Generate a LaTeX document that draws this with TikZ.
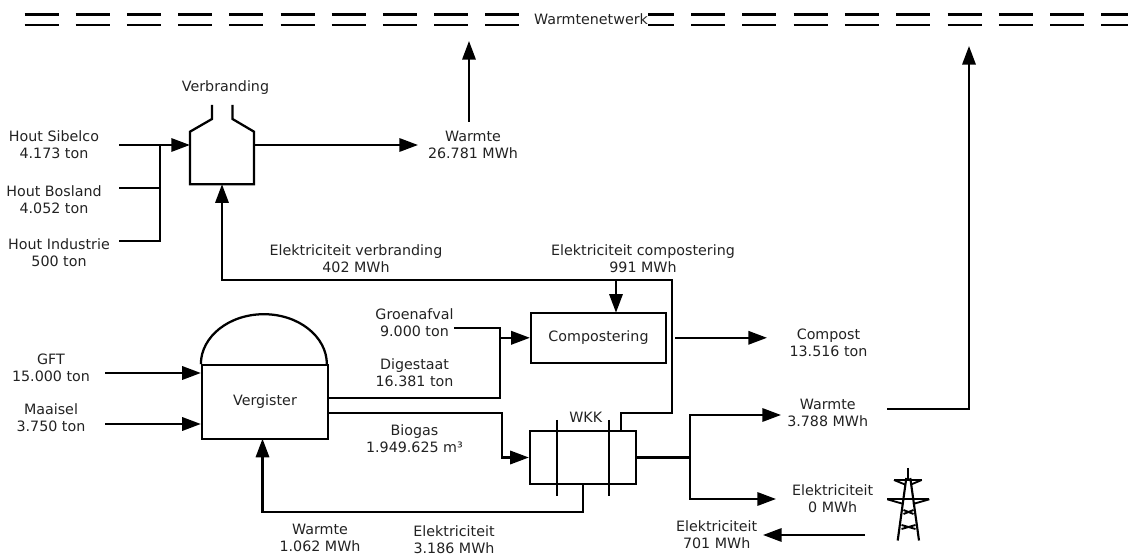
\documentclass[tikz,border=0pt]{standalone}
\usepackage{fontspec}
\setmainfont{DejaVu Sans}
\usetikzlibrary{arrows.meta}
\definecolor{inktext}{HTML}{222222}
\tikzset{
  pipe/.style={draw=black,line width=1.7pt,line join=miter},
  flow/.style={pipe,-{Triangle[length=14pt,width=10pt]}},
  lbl/.style={inner sep=0pt,align=center,text=inktext,font=\fontsize{10.7pt}{12.75pt}\selectfont},
  unit/.style={pipe,inner sep=0pt,align=center,text=inktext,font=\fontsize{10.7pt}{12.75pt}\selectfont},
  netline/.style={draw=black,line width=1.7pt},
  thin pylon/.style={draw=black,line width=1.4pt}
}
\begin{document}
\begin{tikzpicture}[x=0.75pt,y=-0.75pt]
\useasboundingbox (0,0) rectangle (1128,555);

% network
\foreach \s in {24.5,75.7,126.9,178.1,229.3,280.5,331.7,382.9,434.1,485.3}{
  \draw[netline] (\s,14.5) -- ++(34,0);
  \draw[netline] (\s,24.7) -- ++(34,0);
}
\draw[netline] (648,14.5) -- (674,14.5);
\draw[netline] (648,24.7) -- (674,24.7);
\foreach \s in {691,742.3,793.6,844.9,896.2,947.5,998.8,1050.1,1101.4}{
  \draw[netline] (\s,14.5) -- ++(34,0);
  \draw[netline] (\s,24.7) -- ++(34,0);
}
\node[lbl] (net) at (591,19.5) {Warmtenetwerk};

% units
\node[inner sep=0pt,minimum width=47.7pt,minimum height=39pt] (verb) at (222,158) {};
\node[unit,draw,minimum width=94.5pt,minimum height=55pt] (verg) at (265,402) {Vergister};
\node[unit,draw,minimum width=101.2pt,minimum height=37.7pt] (comp) at (598.5,337.8) {Compostering};
\node[unit,draw,minimum width=79.5pt,minimum height=39.7pt] (wkk) at (583,457.5) {};

% furnace outline
\draw[pipe] (212,105) -- (212,119) -- (verb.north west) -- (verb.south west) -- (verb.south east) -- (verb.north east) -- (232.5,119) -- (232.5,105);

% digester dome
\draw[pipe] (verg.north west) arc[start angle=180,end angle=0,x radius=47.25pt,y radius=37.5pt];

% WKK tube sheets
\coordinate (wa) at (556.7,420);
\coordinate (wb) at (556.7,495.7);
\coordinate (wc) at (609,420);
\coordinate (wd) at (609,495.7);
\draw[pipe] (wa) -- (wb);
\draw[pipe] (wc) -- (wd);

% labels
\node[lbl] (hs) at (54,144.5) {Hout Sibelco\\4.173 ton};
\node[lbl] (hb) at (54,199.5) {Hout Bosland\\4.052 ton};
\node[lbl] (hi) at (59,252.5) {Hout Industrie\\500 ton};
\node[lbl] (vb) at (225.5,88) {Verbranding};
\node[lbl] (w1) at (473,144.5) {Warmte\\26.781 MWh};
\node[lbl] (ev) at (356,258.5) {Elektriciteit verbranding\\402 MWh};
\node[lbl] (ec) at (643,258.5) {Elektriciteit compostering\\991 MWh};
\node[lbl] (gft) at (51,367.5) {GFT\\15.000 ton};
\node[lbl] (maa) at (51,417.5) {Maaisel\\3.750 ton};
\node[lbl] (gro) at (414.5,322.5) {Groenafval\\9.000 ton};
\node[lbl] (dig) at (414.5,372.5) {Digestaat\\16.381 ton};
\node[lbl] (bio) at (414.5,438.5) {Biogas\\1.949.625 m³};
\node[lbl] (w2) at (320,537.5) {Warmte\\1.062 MWh};
\node[lbl] (el1) at (454,539.5) {Elektriciteit\\3.186 MWh};
\node[lbl] (wk) at (585.7,417.7) {WKK};
\node[lbl] (cp) at (828.5,342.5) {Compost\\13.516 ton};
\node[lbl] (w3) at (827.7,412.5) {Warmte\\3.788 MWh};
\node[lbl] (el2) at (832.7,498.5) {Elektriciteit\\0 MWh};
\node[lbl] (el3) at (716.7,534.5) {Elektriciteit\\701 MWh};

% free ends
\coordinate (hsS) at (119,145);
\coordinate (hbS) at (119,188);
\coordinate (hiS) at (119,241);
\coordinate (jn) at (160,145);
\coordinate (netA) at (469,41);
\coordinate (w1U) at (469,122);
\coordinate (w1E) at (418,145);
\coordinate (netB) at (969,46);
\coordinate (w3S) at (887,408.7);
\coordinate (gftS) at (105,373);
\coordinate (maaS) at (105,424);
\coordinate (groS) at (454,327.7);
\coordinate (cpE) at (767,337.8);
\coordinate (cpS) at (675,337.8);
\coordinate (w3E) at (781,415);
\coordinate (el2E) at (776,499);
\coordinate (el3S) at (865,535);
\coordinate (el3E) at (763,535);
\coordinate (busv) at (690,457.5);

% wood feeds
\draw[flow] (hsS) -- (hsS -| verb.west);
\draw[pipe] (hbS) -- (hbS -| jn);
\draw[pipe] (hiS) -- (hiS -| jn) -- (jn);
\draw[flow] (w1E -| verb.east) -- (w1E);
\draw[flow] (w1U) -- (netA);

% electricity loop from WKK
\draw[flow] (620.7,431) -- (620.7,413) -- (671.7,413) -- (671.7,279.7) -- (222,279.7) -- (verb.south);
\draw[flow] (616,279.7) -- (616,312.7);

% digester feeds
\draw[flow] (gftS) -- (gftS -| verg.west);
\draw[flow] (maaS) -- (maaS -| verg.west);

% digestate, green waste
\draw[pipe] (groS) -- (500,327.7) -- (500,398) -- (328,398);
\draw[flow] (500,337.8) -- (comp.west);
\draw[flow] (cpS) -- (cpE);

% biogas
\draw[flow] (328,413) -- (502,413) -- (502,457.5) -- (wkk.west);

% WKK heat back to digester
\draw[flow] (583,484) -- (583,511.7) -- (262.5,511.7) -- (262.5,438.7);

% WKK outputs
\draw[pipe] (wkk.east) -- (busv);
\draw[flow] (busv) -- (690,415) -- (w3E);
\draw[flow] (busv) -- (690,499) -- (el2E);
\draw[flow] (w3S) -- (969,408.7) -- (netB);
\draw[flow] (el3S) -- (el3E);

% pylon
\coordinate (apex) at (908.3,468);
\coordinate (footL) at (897.7,540.5);
\coordinate (footR) at (919,540.5);
\draw[pipe,line width=1.5pt] (apex) -- (908.3,480);
\draw[pipe,line width=1.6pt] (906.3,478) -- (footL);
\draw[pipe,line width=1.6pt] (910.3,478) -- (footR);
\draw[thin pylon] (894,480) -- (921.7,480);
\draw[thin pylon] (887.3,499.3) -- (929.3,499.3);
\draw[thin pylon] (894,480) -- (905,484.5);
\draw[thin pylon] (921.7,480) -- (911,484.5);
\draw[thin pylon] (887.3,499.3) -- (903.5,504);
\draw[thin pylon] (929.3,499.3) -- (913,504);
\draw[thin pylon] (903.5,510) -- (913.5,514);
\draw[thin pylon] (913.5,510) -- (903.5,514);
\draw[thin pylon] (901.5,525) -- (915.5,529);
\draw[thin pylon] (915.5,525) -- (901.5,529);
\end{tikzpicture}
\end{document}
